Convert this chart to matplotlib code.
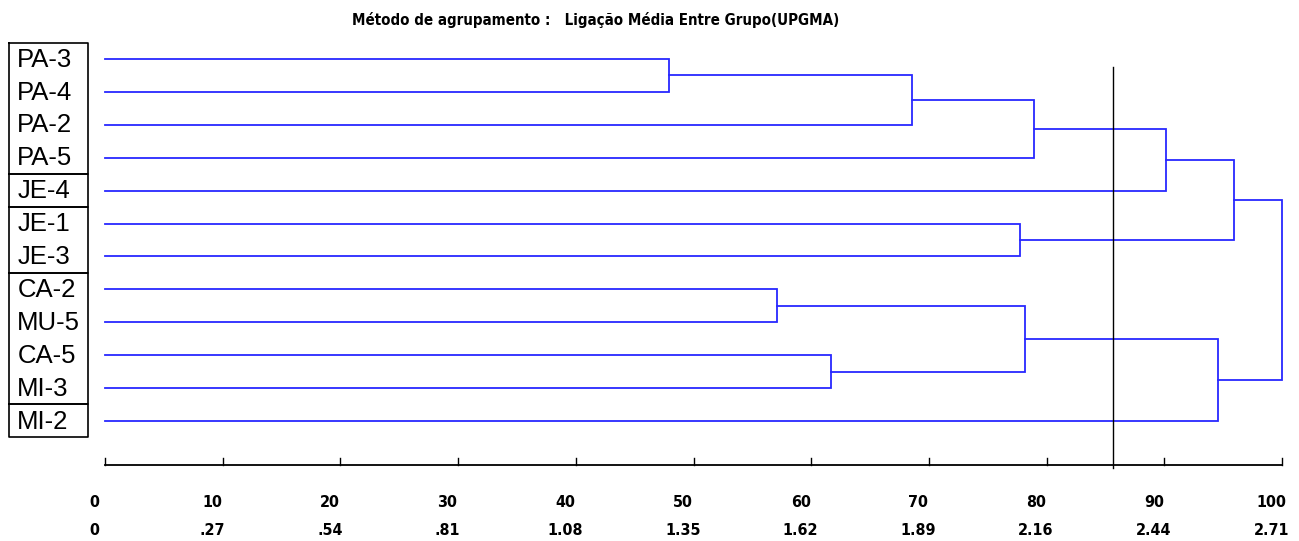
import matplotlib
matplotlib.use("Agg")
import matplotlib.pyplot as plt
from matplotlib import font_manager

# leaves, top to bottom
leaves = ["PA-3", "PA-4", "PA-2", "PA-5", "JE-4", "JE-1", "JE-3",
          "CA-2", "MU-5", "CA-5", "MI-3", "MI-2"]
# merge table: ids < 12 are leaves, later ids are earlier merges
merge_a = [0, 12, 13, 14, 5, 15, 7, 9, 18, 20, 17]
merge_b = [1, 2, 3, 4, 6, 16, 8, 10, 19, 11, 21]
merge_h = [47.9, 68.6, 78.9, 90.1, 77.7, 95.9, 57.1, 61.7, 78.2, 94.6, 100.0]
cut_level = 85.6
# label groups drawn as boxes (first, last leaf index)
groups = [(0, 3), (4, 4), (5, 6), (7, 10), (11, 11)]
ticks = [0, 10, 20, 30, 40, 50, 60, 70, 80, 90, 100]
tick_labels2 = ["0", ".27", ".54", ".81", "1.08", "1.35", "1.62", "1.89",
                "2.16", "2.44", "2.71"]
title = "Método de agrupamento :   Ligação Média Entre Grupo(UPGMA)"

blue = "#2828ff"

# look for a condensed bold face
cond_file = None
for f in font_manager.fontManager.ttflist:
    if "Condensed" in f.fname and "Bold" in f.fname and "Oblique" not in f.fname:
        cond_file = f.fname
        break
if cond_file:
    cond = font_manager.FontProperties(fname=cond_file)
else:
    cond = font_manager.FontProperties(family="DejaVu Sans", weight="bold")

fig = plt.figure(figsize=(12.99, 5.41), dpi=100)
ax = fig.add_axes([0, 0, 1, 1])
ax.set_xlim(-8.92, 101.44)
ax.set_ylim(14.65, -1.793)
ax.axis("off")

# positions of nodes
pos = {i: (0.0, float(i)) for i in range(len(leaves))}
for k, (a, b, h) in enumerate(zip(merge_a, merge_b, merge_h)):
    xa, ya = pos[a]
    xb, yb = pos[b]
    ax.plot([xa, h, h, xb], [ya, ya, yb, yb], color=blue, lw=1.3,
            solid_joinstyle="miter")
    pos[len(leaves) + k] = (h, (ya + yb) / 2)

# cut line
y_axis = 12.34
ax.plot([cut_level, cut_level], [0.24, y_axis + 0.1], color="black", lw=1.0)

# bottom axis
ax.plot([0, 100], [y_axis, y_axis], color="black", lw=1.3)
for t, l2 in zip(ticks, tick_labels2):
    ax.plot([t, t], [y_axis, y_axis - 0.2], color="black", lw=1.0)
    ax.text(t - 0.9, 13.47, str(t), ha="center", va="center",
            fontsize=11.5, fontproperties=cond)
    ax.text(t - 0.9, 14.32, l2, ha="center", va="center",
            fontsize=11.5, fontproperties=cond)

# leaf labels and boxes
for i, name in enumerate(leaves):
    ax.text(-7.45, i + 0.02, name, ha="left", va="center", fontsize=18.5,
            family=["Liberation Sans", "DejaVu Sans"])
for g0, g1 in groups:
    y0, y1 = g0 - 0.5, g1 + 0.5
    ax.plot([-8.16, -1.44, -1.44, -8.16, -8.16], [y0, y0, y1, y1, y0],
            color="black", lw=1.2)

t = ax.text(41.7, -1.17, title, ha="center", va="center",
            fontproperties=cond)
t.set_fontsize(10.8)

fig.savefig("out.png", dpi=100)
